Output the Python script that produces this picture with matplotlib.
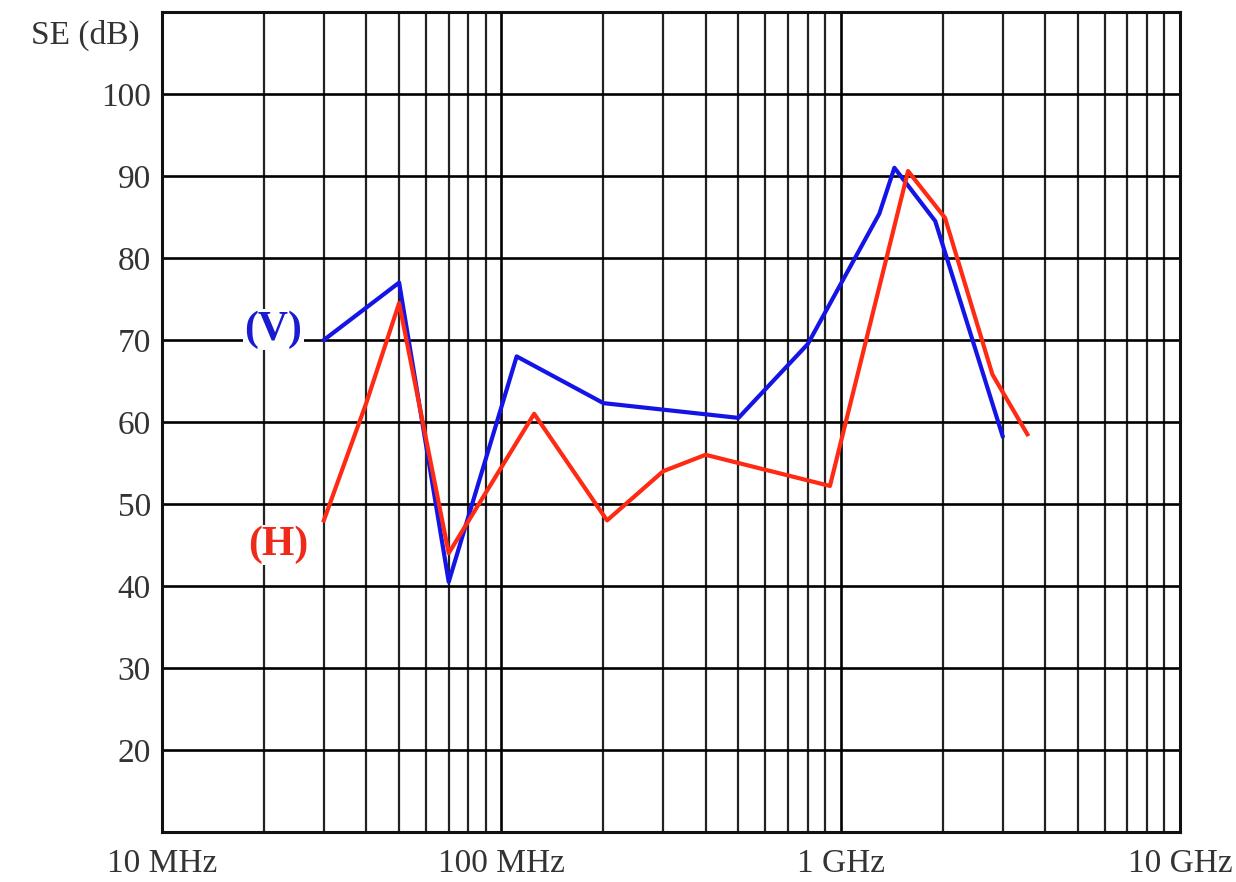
import numpy as np
import matplotlib.pyplot as plt
from matplotlib.ticker import LogLocator, NullFormatter, FixedLocator

# frequencies in Hz, shielding effectiveness in dB
freq_v = [30e6, 50e6, 70e6, 111e6, 200e6, 500e6, 800e6, 1.3e9, 1.44e9, 1.9e9, 3.0e9]
se_v = [70.0, 77.0, 40.5, 68.0, 62.3, 60.5, 69.5, 85.4, 91.0, 84.5, 58.3]

freq_h = [30e6, 40e6, 50e6, 70e6, 125e6, 205e6, 300e6, 400e6, 930e6, 1.58e9, 2.03e9, 2.8e9, 3.55e9]
se_h = [48.0, 62.3, 74.5, 44.0, 61.0, 48.0, 54.0, 56.0, 52.2, 90.6, 84.9, 65.8, 58.5]

yticks = [20, 30, 40, 50, 60, 70, 80, 90, 100]
xticks = [1e7, 1e8, 1e9, 1e10]
xlabels = ['10 MHz', '100 MHz', '1 GHz', '10 GHz']

plt.rcParams['font.family'] = ['Liberation Serif', 'DejaVu Serif']

fig = plt.figure(figsize=(12.36, 8.82), dpi=100)
ax = fig.add_axes([0.131, 0.0567, 0.8237, 0.9297])

ax.set_xscale('log')
ax.set_xlim(1e7, 1e10)
ax.set_ylim(10, 110)

ax.xaxis.set_major_locator(FixedLocator(xticks))
ax.xaxis.set_minor_locator(LogLocator(base=10, subs=np.arange(2, 10)))
ax.xaxis.set_minor_formatter(NullFormatter())
ax.set_xticks(xticks)
ax.set_xticklabels(xlabels)
ax.set_yticks(yticks)

ax.grid(which='major', color='black', lw=1.9)
ax.grid(which='minor', axis='x', color='#222222', lw=1.6)
ax.set_axisbelow(True)

ax.tick_params(which='both', length=0, labelsize=24, colors='#333333')
ax.tick_params(axis='x', pad=12)
ax.tick_params(axis='y', pad=8)
for s in ax.spines.values():
    s.set_linewidth(2.2)
    s.set_color('#111111')

ax.plot(freq_v, se_v, color='#1414e6', lw=3, zorder=3)
ax.plot(freq_h, se_h, color='#ff2a14', lw=3, zorder=4)

ax.text(2.13e7, 71.3, '(V)', color='#1a1ad0', fontsize=30, fontweight='bold',
        ha='center', va='center', zorder=5,
        bbox=dict(facecolor='white', edgecolor='none', pad=1))
ax.text(2.2e7, 45.0, '(H)', color='#ee2a1a', fontsize=30, fontweight='bold',
        ha='center', va='center', zorder=5,
        bbox=dict(facecolor='white', edgecolor='none', pad=1))

fig.text(0.069, 0.96, 'SE (dB)', fontsize=24, color='#333333', ha='center', va='center')

fig.savefig('out.png', dpi=100, facecolor='white')
